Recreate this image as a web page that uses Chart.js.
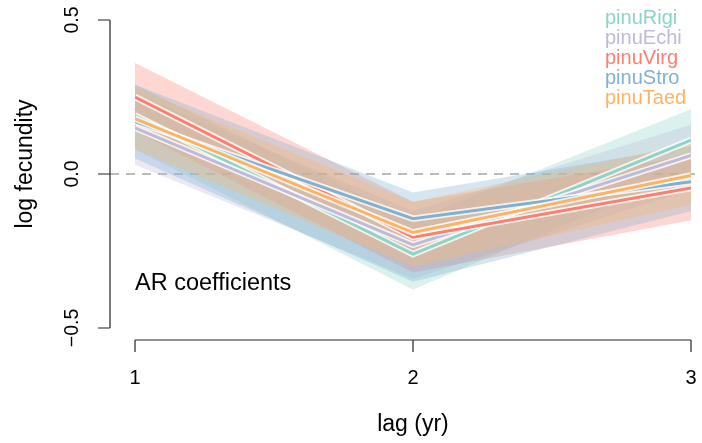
<!DOCTYPE html>
<html>
<head>
<meta charset="utf-8">
<script src="https://cdn.jsdelivr.net/npm/chart.js@4"></script>
<style>
  html, body { margin: 0; padding: 0; background: #fff; }
  #wrap { width: 702px; height: 443px; }
</style>
</head>
<body>
<div id="wrap"><canvas id="ar-chart" width="702" height="443"></canvas></div>
<script>
// lag values and tick labels
const lags = [1, 2, 3];
const xTicks = ["1", "2", "3"];
const yTicks = [-0.5, 0, 0.5];
const yTickLabels = ["\u22120.5", "0.0", "0.5"];

const species = ["pinuRigi", "pinuEchi", "pinuVirg", "pinuStro", "pinuTaed"];
const colors = ["#8DD3C7", "#BEBADA", "#FB8072", "#80B1D3", "#FDB462"];

// AR coefficient estimates and interval bounds, per species
const meanRigi = [0.19, -0.26, 0.11];
const loRigi = [0.08, -0.375, 0.01];
const hiRigi = [0.29, -0.15, 0.21];

const meanEchi = [0.15, -0.23, 0.06];
const loEchi = [0.03, -0.34, -0.05];
const hiEchi = [0.26, -0.12, 0.16];

const meanVirg = [0.25, -0.205, -0.045];
const loVirg = [0.14, -0.32, -0.15];
const hiVirg = [0.36, -0.09, 0.06];

const meanStro = [0.17, -0.145, -0.025];
const loStro = [0.05, -0.35, -0.12];
const hiStro = [0.29, -0.06, 0.09];

const meanTaed = [0.18, -0.19, -0.005];
const loTaed = [0.08, -0.30, -0.10];
const hiTaed = [0.28, -0.09, 0.10];

const means = [meanRigi, meanEchi, meanVirg, meanStro, meanTaed];
const los = [loRigi, loEchi, loVirg, loStro, loTaed];
const his = [hiRigi, hiEchi, hiVirg, hiStro, hiTaed];

const FONT = "'Liberation Sans', Arial, Helvetica, sans-serif";

function pts(vals) {
    return vals.map((v, i) => ({ x: lags[i], y: v }));
}
function alpha(hex, a) {
    const n = parseInt(hex.slice(1), 16);
    return "rgba(" + (n >> 16) + "," + ((n >> 8) & 255) + "," + (n & 255) + "," + a + ")";
}

// higher order is drawn first: bands (Rigi..Taed), then halo+line pairs
let datasets = [];
species.forEach((s, i) => {
    datasets.push({
        label: s + " hi",
        data: pts(his[i]),
        borderWidth: 0,
        pointRadius: 0,
        backgroundColor: alpha(colors[i], 0.32),
        fill: "+1",
        order: 100 - i
    });
    datasets.push({
        label: s + " lo",
        data: pts(los[i]),
        borderWidth: 0,
        pointRadius: 0,
        fill: false,
        order: 100 - i
    });
});
species.forEach((s, i) => {
    datasets.push({
        label: s + " halo",
        data: pts(means[i]),
        borderColor: "rgba(255,255,255,0.8)",
        borderWidth: 6.5,
        pointRadius: 0,
        fill: false,
        order: 50 - 2 * i
    });
    datasets.push({
        label: s,
        data: pts(means[i]),
        borderColor: colors[i],
        borderWidth: 3,
        pointRadius: 0,
        fill: false,
        order: 49 - 2 * i
    });
});

const rAxes = {
    id: "rAxes",
    beforeDatasetsDraw(chart) {
        const { ctx, scales: { y } } = chart;
        const y0 = y.getPixelForValue(0);
        ctx.save();
        ctx.strokeStyle = "#BBBBBB";
        ctx.lineWidth = 2;
        ctx.setLineDash([9, 7]);
        ctx.beginPath();
        ctx.moveTo(110, y0);
        ctx.lineTo(702, y0);
        ctx.stroke();
        ctx.restore();
    },
    afterDraw(chart) {
        const { ctx, scales: { x, y } } = chart;
        ctx.save();
        ctx.strokeStyle = "#222";
        ctx.fillStyle = "#000";
        ctx.lineWidth = 1.2;

        // y axis
        const ax = 110;
        ctx.beginPath();
        ctx.moveTo(ax, y.getPixelForValue(yTicks[0]));
        ctx.lineTo(ax, y.getPixelForValue(yTicks[yTicks.length - 1]));
        yTicks.forEach(t => {
            const py = y.getPixelForValue(t);
            ctx.moveTo(ax, py);
            ctx.lineTo(ax - 12, py);
        });
        ctx.stroke();
        ctx.font = "19.5px " + FONT;
        ctx.textAlign = "center";
        ctx.textBaseline = "middle";
        yTicks.forEach((t, i) => {
            ctx.save();
            ctx.translate(73, y.getPixelForValue(t));
            ctx.rotate(-Math.PI / 2);
            ctx.fillText(yTickLabels[i], 0, 0);
            ctx.restore();
        });
        ctx.save();
        ctx.translate(26, 164);
        ctx.rotate(-Math.PI / 2);
        ctx.font = "23px " + FONT;
        ctx.fillText("log fecundity", 0, 0);
        ctx.restore();

        // x axis
        const ay = 340;
        ctx.beginPath();
        ctx.moveTo(x.getPixelForValue(lags[0]), ay);
        ctx.lineTo(x.getPixelForValue(lags[lags.length - 1]), ay);
        lags.forEach(l => {
            const px = x.getPixelForValue(l);
            ctx.moveTo(px, ay);
            ctx.lineTo(px, ay + 12);
        });
        ctx.stroke();
        ctx.font = "20px " + FONT;
        lags.forEach((l, i) => {
            ctx.fillText(xTicks[i], x.getPixelForValue(l), 378);
        });
        ctx.font = "23px " + FONT;
        ctx.fillText("lag (yr)", x.getPixelForValue(2), 425);

        // panel label
        ctx.textAlign = "left";
        ctx.font = "23.5px " + FONT;
        ctx.fillText("AR coefficients", 135, 284);

        // legend
        ctx.font = "20px " + FONT;
        species.forEach((s, i) => {
            ctx.fillStyle = colors[i];
            ctx.fillText(s, 605, 18 + i * 20);
        });
        ctx.restore();
    }
};

new Chart(document.getElementById("ar-chart"), {
    type: "line",
    data: { datasets: datasets },
    options: {
        responsive: false,
        animation: false,
        layout: { padding: { left: 135, right: 11, top: 20, bottom: 115 } },
        scales: {
            x: { type: "linear", min: 1, max: 3, display: false },
            y: { min: -0.5, max: 0.5, display: false }
        },
        plugins: {
            legend: { display: false },
            tooltip: { enabled: false },
            filler: { propagate: false }
        }
    },
    plugins: [rAxes]
});
</script>
</body>
</html>
